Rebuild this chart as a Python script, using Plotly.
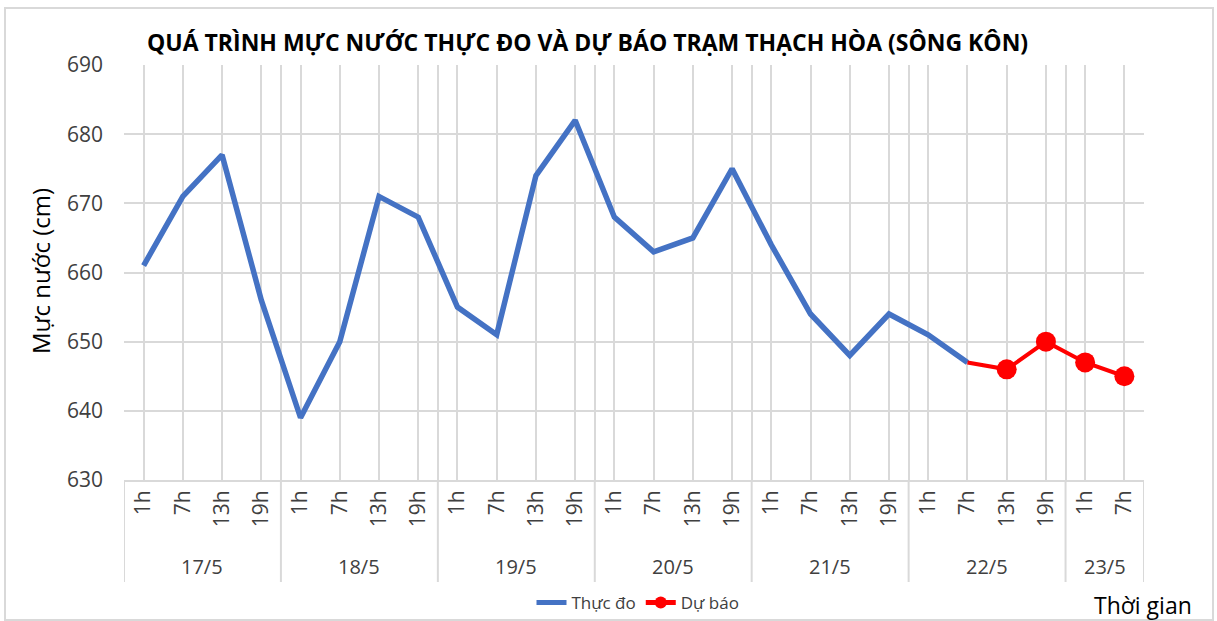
import plotly.graph_objects as go

# ---- data ----
dates = ["17/5", "18/5", "19/5", "20/5", "21/5", "22/5", "23/5"]
hours_per_date = [
    ["1h", "7h", "13h", "19h"],
    ["1h", "7h", "13h", "19h"],
    ["1h", "7h", "13h", "19h"],
    ["1h", "7h", "13h", "19h"],
    ["1h", "7h", "13h", "19h"],
    ["1h", "7h", "13h", "19h"],
    ["1h", "7h"],
]
observed = [661, 671, 677, 656, 639, 650, 671, 668, 655, 651, 674, 682,
            668, 663, 665, 675, 664, 654, 648, 654, 651, 647]
forecast_start = 21  # index of 22/5 7h
forecast = [647, 646, 650, 647, 645]

hour_labels = [h for hs in hours_per_date for h in hs]
n = len(hour_labels)
xs = list(range(n))

# layout in pixels
W, H = 1217, 621
L, R, T, B = 124, 1144, 65, 480
pw, ph = R - L, B - T


def px_x(p):
    return (p - L) / pw


def px_y(p):
    return (B - p) / ph


fig = go.Figure()
fig.add_trace(go.Scatter(
    x=xs[:len(observed)], y=observed, mode="lines", name="Thực đo",
    line=dict(color="#4472C4", width=5.5)))
fx = xs[forecast_start:forecast_start + len(forecast)]
fig.add_trace(go.Scatter(
    x=fx, y=forecast, mode="lines+markers", name="Dự báo",
    line=dict(color="#FF0000", width=4),
    marker=dict(color="#FF0000", opacity=1, line=dict(width=0),
                size=[0] + [20] * (len(forecast) - 1))))

# group boundaries / centers
bounds = [-0.5]
centers = []
start = 0
for hs in hours_per_date:
    centers.append(start + (len(hs) - 1) / 2)
    start += len(hs)
    bounds.append(start - 0.5)

shapes = []
for b in bounds:
    shapes.append(dict(type="line", xref="x", yref="paper", x0=b, x1=b,
                       y0=0, y1=px_y(582), line=dict(color="#D9D9D9", width=2)))
# outer border
shapes.append(dict(type="rect", xref="paper", yref="paper",
                   x0=px_x(5), x1=px_x(1213), y0=px_y(620), y1=px_y(8),
                   line=dict(color="#D9D9D9", width=2)))

annotations = []
for c, d in zip(centers, dates):
    annotations.append(dict(x=c, y=px_y(566), xref="x", yref="paper", text=d,
                            showarrow=False, font=dict(size=20, color="#404040"),
                            xanchor="center", yanchor="middle"))
annotations.append(dict(x=px_x(587), y=px_y(42), xref="paper", yref="paper",
                        text="<b>QUÁ TRÌNH MỰC NƯỚC THỰC ĐO VÀ DỰ BÁO TRẠM THẠCH HÒA (SÔNG KÔN)</b>",
                        showarrow=False, font=dict(size=23, color="#000000"),
                        xanchor="center", yanchor="middle"))
annotations.append(dict(x=px_x(40), y=px_y(271), xref="paper", yref="paper",
                        text="Mực nước (cm)", textangle=-90, showarrow=False,
                        font=dict(size=24, color="#000000"),
                        xanchor="center", yanchor="middle"))
annotations.append(dict(x=px_x(1143), y=px_y(605), xref="paper", yref="paper",
                        text="Thời gian", showarrow=False,
                        font=dict(size=23, color="#000000"),
                        xanchor="center", yanchor="middle"))

fig.update_layout(
    width=W, height=H,
    margin=dict(l=L, r=W - R, t=T, b=H - B, autoexpand=False),
    paper_bgcolor="white", plot_bgcolor="white",
    font=dict(family="Open Sans, Liberation Sans, sans-serif", color="#404040"),
    shapes=shapes, annotations=annotations,
    legend=dict(orientation="h", x=px_x(638), xanchor="center",
                y=px_y(603), yanchor="middle", font=dict(size=17, color="#404040"),
                itemsizing="constant", bgcolor="rgba(0,0,0,0)"),
    showlegend=True,
)
fig.update_xaxes(
    range=[-0.5, n - 0.5], tickmode="array", tickvals=xs, ticktext=hour_labels,
    tickangle=-90, tickfont=dict(size=21, color="#404040"),
    showgrid=True, gridcolor="#D9D9D9", gridwidth=1.5,
    minor=dict(tickvals=bounds, showgrid=True, gridcolor="#D9D9D9", gridwidth=1.5),
    showline=True, linecolor="#D9D9D9", linewidth=2, ticks="", zeroline=False,
    automargin=False,
)
fig.update_yaxes(
    range=[630, 690], dtick=10, tickfont=dict(size=21, color="#404040"),
    showgrid=True, gridcolor="#D9D9D9", gridwidth=1.5, zeroline=False,
    showline=False, ticks="", ticklabelstandoff=20, automargin=False,
)

fig.write_html("out.html", config={"displayModeBar": False},
               post_script="document.body.style.margin='0px';")
